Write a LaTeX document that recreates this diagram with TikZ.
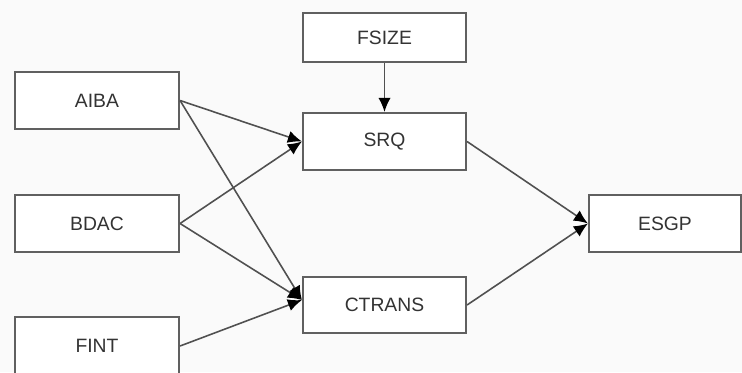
\documentclass[tikz,border=0pt]{standalone}
\usepackage{fontspec}
\setmainfont{Liberation Sans}
\usetikzlibrary{arrows.meta,calc}
\definecolor{boxline}{HTML}{606060}
\definecolor{arrline}{HTML}{505050}
\definecolor{txt}{HTML}{333333}
\tikzset{
  varbox/.style={draw=boxline, line width=1.2pt, fill=white, text=txt, font=\fontsize{11}{13}\selectfont},
  conn/.style={draw=arrline, line width=0.9pt, -{Latex[length=8pt,width=7pt,color=black]}},
}
\begin{document}
\begin{tikzpicture}[x=0.02cm,y=-0.02cm]
\useasboundingbox (0,0) rectangle (742,372);
\fill[white!98!black] (0,0) rectangle (742,372);
\begin{scope}
\clip (0,0) rectangle (742,372);
\node[varbox, minimum width=164*0.02cm, minimum height=57*0.02cm] (AIBA) at (97,100.5) {AIBA};
\node[varbox, minimum width=164*0.02cm, minimum height=57*0.02cm] (BDAC) at (97,223.5) {BDAC};
\node[varbox, minimum width=164*0.02cm, minimum height=58*0.02cm] (FINT) at (97,346) {FINT};
\node[varbox, minimum width=163*0.02cm, minimum height=49*0.02cm] (FSIZE) at (384.5,37.5) {FSIZE};
\node[varbox, minimum width=163*0.02cm, minimum height=57*0.02cm] (SRQ) at (384.5,141.5) {SRQ};
\node[varbox, minimum width=163*0.02cm, minimum height=56*0.02cm] (CTRANS) at (384.5,305) {CTRANS};
\node[varbox, minimum width=152*0.02cm, minimum height=57*0.02cm] (ESGP) at (665,223.5) {ESGP};
\coordinate (ctin) at ($(CTRANS.west)+(0,-5)$);
\draw[conn] (FSIZE.south) -- (SRQ.north);
\draw[conn] (AIBA.east) -- (SRQ.west);
\draw[conn] (BDAC.east) -- (SRQ.west);
\draw[conn] (AIBA.east) -- (ctin);
\draw[conn] (BDAC.east) -- (ctin);
\draw[conn] (FINT.east) -- (ctin);
\draw[conn] (SRQ.east) -- (ESGP.west);
\draw[conn] (CTRANS.east) -- (ESGP.west);
\end{scope}
\end{tikzpicture}
\end{document}
